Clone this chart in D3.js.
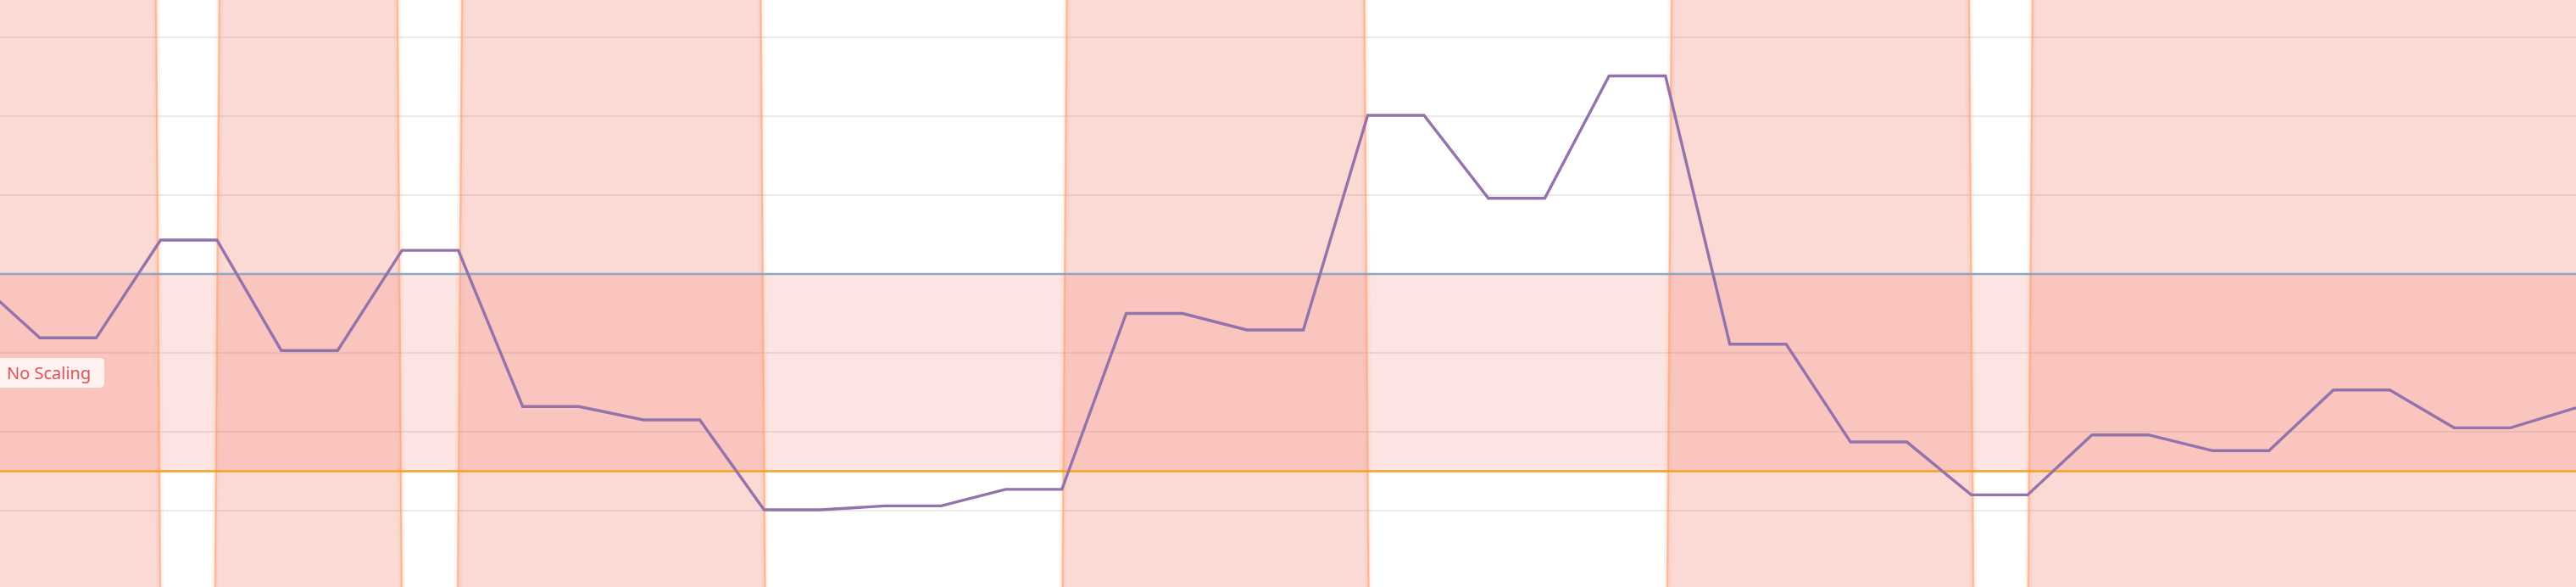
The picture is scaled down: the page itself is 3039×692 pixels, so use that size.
<!DOCTYPE html>
<html>
<head>
<meta charset="utf-8">
<script src="https://cdn.jsdelivr.net/npm/d3@7"></script>
<style>
  html, body { margin: 0; padding: 0; background: #fff; overflow: hidden; }
  svg { display: block; }
</style>
</head>
<body>
<div id="chart"></div>
<script>
// metric sampled once per interval (index -1 .. 21)
const sampleIndex = [-1, 0, 1, 2, 3, 4, 5, 6, 7, 8, 9, 10, 11, 12, 13, 14, 15, 16, 17, 18, 19, 20, 21];
const metricValues = [49.3, 41.9, 54.3, 40.3, 53.0, 33.2, 31.5, 20.1, 20.6, 22.7, 45.0, 42.9,
                      70.1, 59.6, 75.1, 41.1, 28.7, 22.0, 29.6, 27.6, 35.3, 30.5, 33.0];

// thresholds
const scaleUpThreshold = 50;
const scaleDownThreshold = 25;
const bandLabel = "No Scaling";

// periods where scaling was active (in sample index units)
const scalingStart = [-2.0, 1.47, 3.48, 8.49, 13.50, 16.49];
const scalingEnd   = [0.98, 2.98, 5.99, 10.99, 16.00, 22.50];

// horizontal grid values
const gridValues = [20, 30, 40, 50, 60, 70, 80];

const W = 3039, H = 692;
const HOLD = 0.467;   // part of each interval the value is held flat
const SKEW = 5;       // tilt of the shaded region edges, px

const svg = d3.select('#chart').append('svg')
  .attr('width', W)
  .attr('height', H);

const xScale = d3.scaleLinear().domain([-0.33, 21.01]).range([0, W]);
const yScale = d3.scaleLinear().domain([10.32, 84.73]).range([H, 0]);

// grid
svg.append('g').selectAll('line')
  .data(gridValues)
  .enter()
  .append('line')
  .attr('x1', 0).attr('x2', W)
  .attr('y1', d => yScale(d)).attr('y2', d => yScale(d))
  .attr('stroke', 'rgba(0,0,0,0.11)')
  .attr('stroke-width', 1.5);

// no scaling band
svg.append('rect')
  .attr('x', 0)
  .attr('width', W)
  .attr('y', yScale(scaleUpThreshold))
  .attr('height', yScale(scaleDownThreshold) - yScale(scaleUpThreshold))
  .attr('fill', 'rgba(240,110,100,0.19)');

// scaling periods
const regions = scalingStart.map((s, i) => ({start: s, end: scalingEnd[i]}));
const poly = d3.line();
const shades = svg.append('g');
shades.selectAll('path.shade')
  .data(regions)
  .enter()
  .append('path')
  .attr('class', 'shade')
  .attr('d', d => poly([
    [xScale(d.start) - SKEW / 2, H],
    [xScale(d.start) + SKEW / 2, 0],
    [xScale(d.end) - SKEW / 2, 0],
    [xScale(d.end) + SKEW / 2, H]
  ]) + 'Z')
  .attr('fill', 'rgba(240,110,90,0.26)');

// soft edges
const edges = [];
regions.forEach(d => {
  edges.push([[xScale(d.start) - SKEW / 2, H], [xScale(d.start) + SKEW / 2, 0]]);
  edges.push([[xScale(d.end) - SKEW / 2, 0], [xScale(d.end) + SKEW / 2, H]]);
});
shades.selectAll('path.glow')
  .data(edges)
  .enter()
  .append('path')
  .attr('class', 'glow')
  .attr('d', poly)
  .attr('fill', 'none')
  .attr('stroke', 'rgba(250,170,130,0.12)')
  .attr('stroke-width', 9);
shades.selectAll('path.edge')
  .data(edges)
  .enter()
  .append('path')
  .attr('class', 'edge')
  .attr('d', poly)
  .attr('fill', 'none')
  .attr('stroke', 'rgba(250,165,120,0.65)')
  .attr('stroke-width', 2.5);

// threshold lines
svg.append('line')
  .attr('x1', 0).attr('x2', W)
  .attr('y1', yScale(scaleUpThreshold)).attr('y2', yScale(scaleUpThreshold))
  .attr('stroke', '#7fa3c6')
  .attr('stroke-opacity', 0.9)
  .attr('stroke-width', 2.5);

svg.append('line')
  .attr('x1', 0).attr('x2', W)
  .attr('y1', yScale(scaleDownThreshold)).attr('y2', yScale(scaleDownThreshold))
  .attr('stroke', '#f5a020')
  .attr('stroke-width', 2.5);

// metric line: value held then ramps to the next sample
const pts = [];
sampleIndex.forEach((t, i) => {
  pts.push([t, metricValues[i]]);
  pts.push([t + HOLD, metricValues[i]]);
});
const line = d3.line()
  .x(d => xScale(d[0]))
  .y(d => yScale(d[1]));

svg.append('path')
  .datum(pts)
  .attr('d', line)
  .attr('fill', 'none')
  .attr('stroke', '#9473ad')
  .attr('stroke-width', 3.4)
  .attr('stroke-linejoin', 'miter');

// band label
const lab = svg.append('g').attr('transform', 'translate(0,' + 422 + ')');
lab.append('rect')
  .attr('x', -8).attr('y', 0)
  .attr('width', 131).attr('height', 35)
  .attr('rx', 5)
  .attr('fill', 'rgba(255,255,255,0.78)');
lab.append('text')
  .attr('x', 8).attr('y', 25)
  .attr('font-family', '"Noto Sans", "Open Sans", sans-serif')
  .attr('font-size', 20)
  .attr('fill', '#e0555a')
  .text(bandLabel);
</script>
</body>
</html>
